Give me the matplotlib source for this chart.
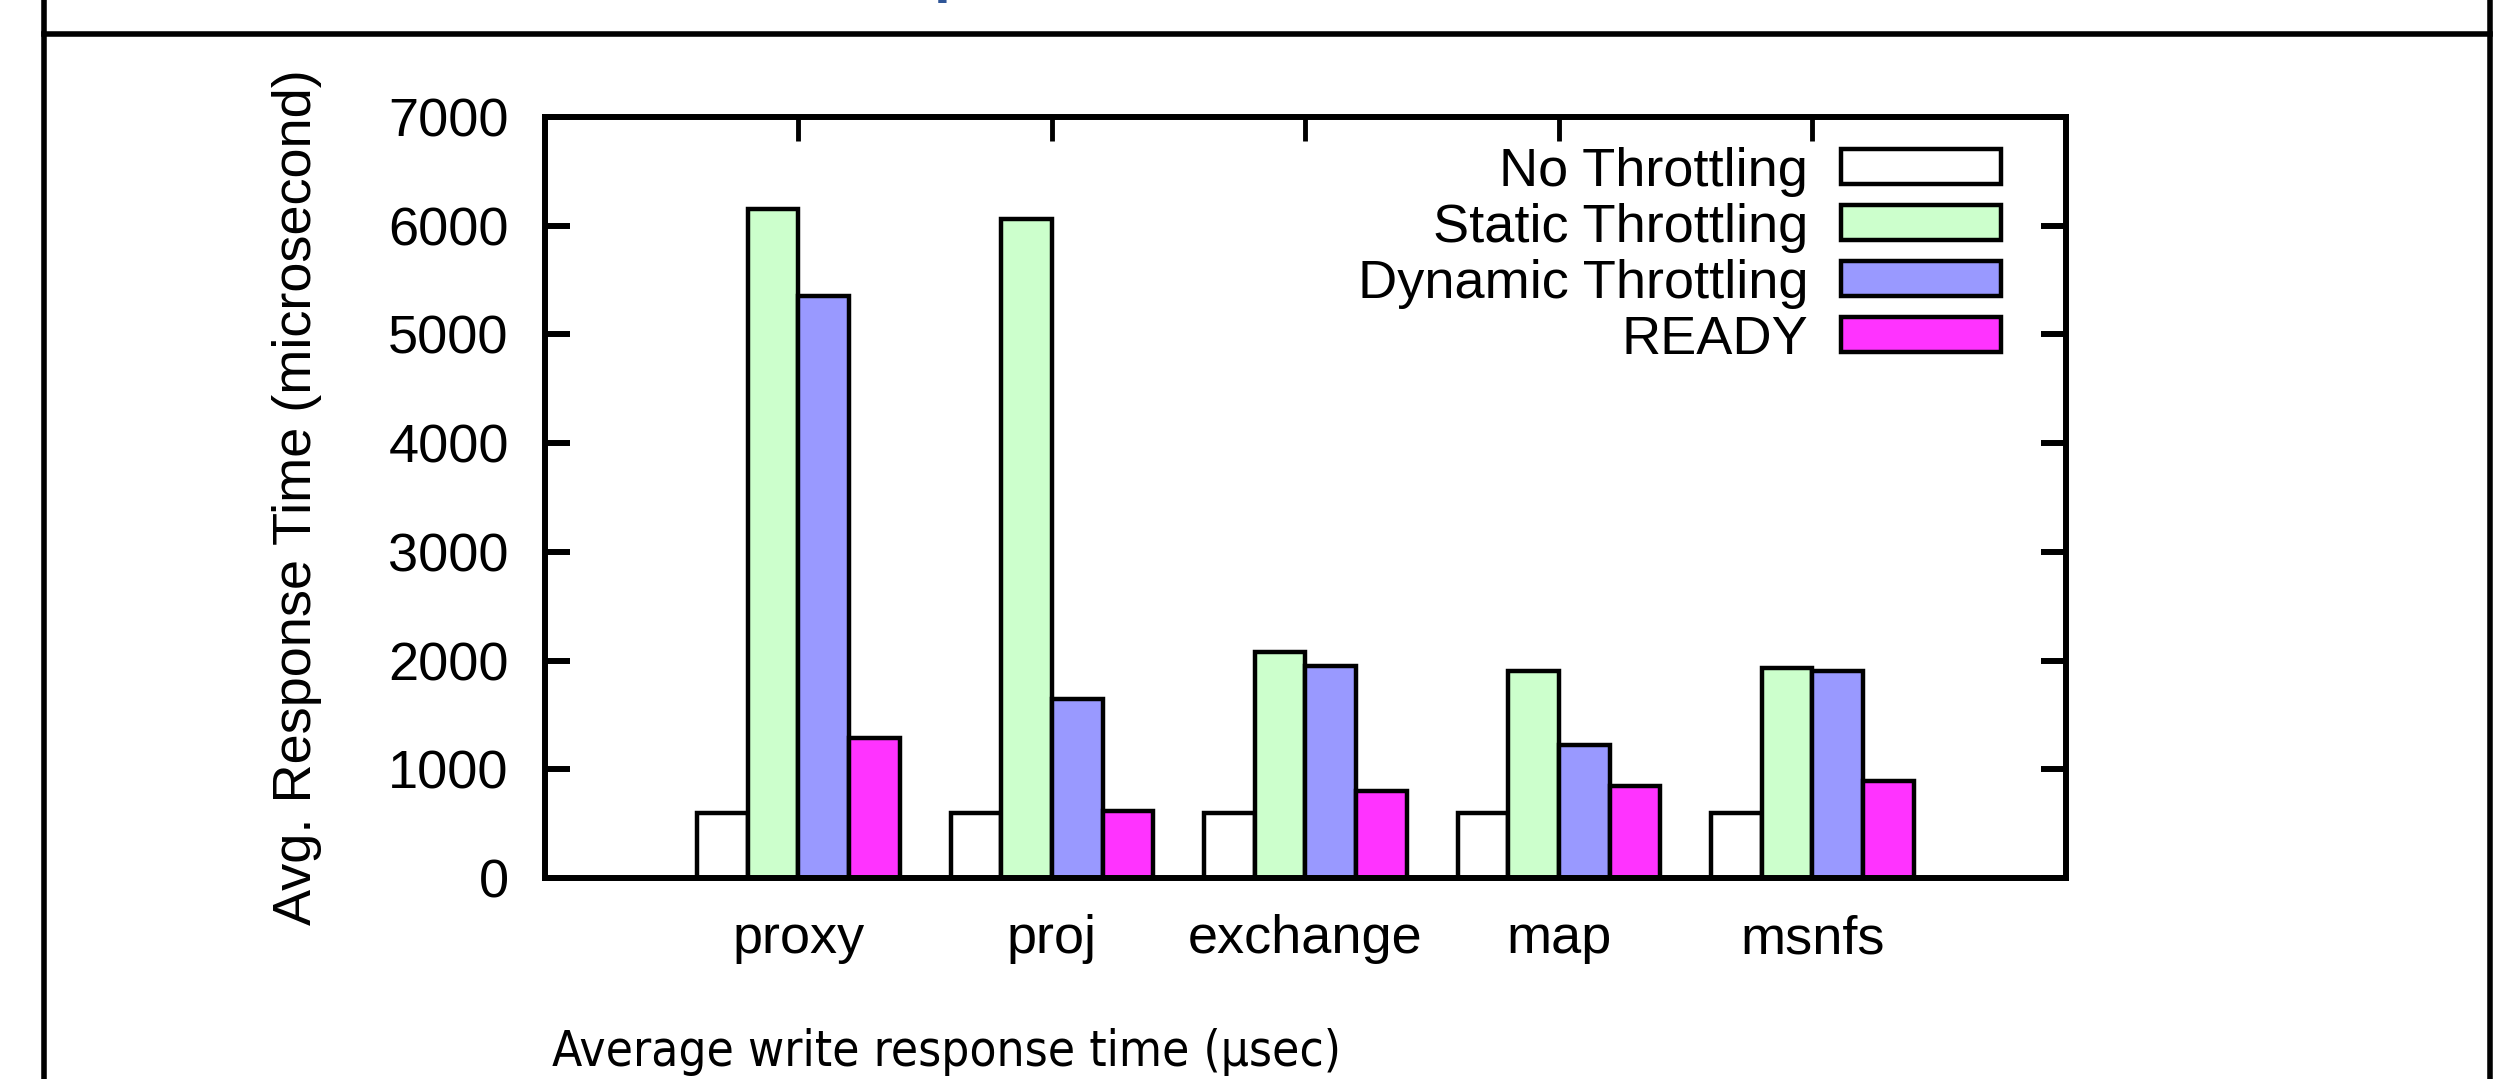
import matplotlib
matplotlib.use('Agg')
import matplotlib.pyplot as plt
import numpy as np
from matplotlib.lines import Line2D

# data (microseconds)
traces = ['proxy', 'proj', 'exchange', 'map', 'msnfs']
no_throttling = [600, 600, 600, 600, 600]
static_throttling = [6150, 6060, 2080, 1900, 1930]
dynamic_throttling = [5350, 1650, 1950, 1220, 1900]
ready = [1290, 620, 800, 850, 890]

series_names = ['No Throttling', 'Static Throttling', 'Dynamic Throttling', 'READY']
series_colors = ['#FFFFFF', '#CCFFCC', '#9999FF', '#FF33FF']
yticks = [0, 1000, 2000, 3000, 4000, 5000, 6000, 7000]

plt.rcParams['font.family'] = ['Liberation Sans', 'DejaVu Sans']

fig = plt.figure(figsize=(25.18, 10.79), dpi=100)
ax = fig.add_axes([0.2164, 0.1863, 0.6041, 0.7053])

x = np.arange(1, len(traces) + 1)
w = 0.2
all_series = [no_throttling, static_throttling, dynamic_throttling, ready]
for i, vals in enumerate(all_series):
    ax.bar(x + (i - 1.5) * w, vals, width=w, color=series_colors[i],
           edgecolor='black', linewidth=3.2, label=series_names[i], zorder=3)

ax.set_xlim(0, 6)
ax.set_ylim(0, 7000)
ax.set_yticks(yticks)
ax.set_xticks(x)
ax.set_xticklabels(traces)

for s in ax.spines.values():
    s.set_linewidth(4.3)
    s.set_zorder(4)

ax.tick_params(axis='y', direction='in', length=18, width=4.3, labelsize=39,
               pad=26, left=True, right=True)
ax.tick_params(axis='x', direction='in', length=17, width=3.5, labelsize=39,
               pad=26, bottom=False, top=True)

ax.set_ylabel('Avg. Response Time (microsecond)', fontsize=39, va='center')
ax.yaxis.set_label_coords(-0.163, 0.5)

leg = ax.legend(loc='upper right', bbox_to_anchor=(0.957, 0.961), frameon=False,
                fontsize=39, markerfirst=False, handlelength=2.95,
                handleheight=0.6, handletextpad=0.6, labelspacing=0.11,
                borderpad=0, borderaxespad=0)
for t in leg.get_texts():
    t.set_ha('right')

# slide frame around the chart
lw = 4.0
fig.add_artist(Line2D([43.5 / 2518, 43.5 / 2518], [0, 1], color='black', lw=lw,
                      transform=fig.transFigure))
fig.add_artist(Line2D([2490 / 2518, 2490 / 2518], [0, 1], color='black', lw=lw,
                      transform=fig.transFigure))
fig.add_artist(Line2D([43.5 / 2518, 2490 / 2518], [1 - 34 / 1079, 1 - 34 / 1079],
                      color='black', lw=lw, transform=fig.transFigure))

# bottom of the slide title, cut off at the top edge
fig.text(934 / 2518, 1 + 10 / 1079, 'p', fontsize=44, fontweight='bold',
         color='#2F5597', ha='left', va='baseline')

fig.text(947 / 2518, 13 / 1079, 'Average write response time (\u00b5sec)',
         fontsize=35.5, family='DejaVu Sans', fontstretch='condensed',
         ha='center', va='baseline')

fig.savefig('out.png', dpi=100)
